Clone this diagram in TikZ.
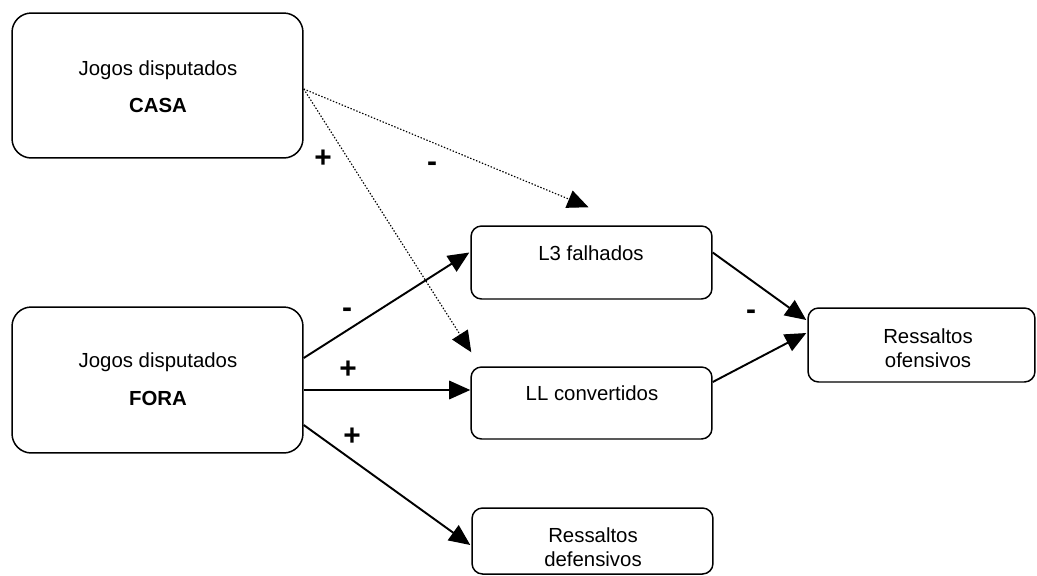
\documentclass[tikz,border=0pt]{standalone}
\usepackage{fontspec}
\setmainfont{Liberation Sans}
\usetikzlibrary{arrows.meta,calc}
\tikzset{
  bigbox/.style={draw, line width=0.85pt, rounded corners=11pt, inner sep=0pt},
  smallbox/.style={draw, line width=0.85pt, rounded corners=6pt, inner sep=0pt},
  lbl/.style={inner sep=0pt, align=center, font=\fontsize{11.6}{13.5}\selectfont},
  sign/.style={inner sep=0pt, font=\fontsize{17}{19}\selectfont\bfseries, text height=1.1ex, text depth=0pt},
  solidarr/.style={line width=1.1pt, -{Triangle[length=12pt,width=10.5pt]}},
  dotarr/.style={line width=0.65pt, dash pattern=on 0.8pt off 1pt, -{Triangle[length=12pt,width=10.5pt]}}
}
\begin{document}
\begin{tikzpicture}[x=0.02cm, y=-0.02cm]
\useasboundingbox (0,0) rectangle (1037,575);
% boxes
\node[bigbox, minimum width=5.82cm, minimum height=2.9cm] (casa) at (157.5,85.5) {};
\node[bigbox, minimum width=5.82cm, minimum height=2.92cm] (fora) at (157.5,380) {};
\node[smallbox, minimum width=4.82cm, minimum height=1.46cm] (l3) at (591.5,262.5) {};
\node[smallbox, minimum width=4.82cm, minimum height=1.44cm] (ll) at (591.5,403) {};
\node[smallbox, minimum width=4.82cm, minimum height=1.32cm] (def) at (592.5,541) {};
\node[smallbox, minimum width=4.54cm, minimum height=1.48cm] (ofe) at (921.5,345) {};
% texts
\node[lbl] (casat1) at (158,70) {Jogos disputados};
\node[lbl, font=\fontsize{11.6}{13.5}\selectfont\bfseries] (casat2) at (158,105) {CASA};
\node[lbl] (forat1) at (158,362) {Jogos disputados};
\node[lbl, font=\fontsize{11.6}{13.5}\selectfont\bfseries] (forat2) at (158,398) {FORA};
\node[lbl] (l3t) at (591,253) {L3 falhados};
\node[lbl] (llt) at (592,393) {LL convertidos};
\node[lbl] (deft) at (593,547) {Ressaltos\\defensivos};
\node[lbl] (ofet) at (928,348) {Ressaltos\\ofensivos};
% dotted arrows from CASA
\draw[dotarr] ($(casa.east)+(0,3.5)$) -- ($(l3.north)+(-3,-18)$);
\draw[dotarr] ($(casa.east)+(0,3.5)$) -- ($(ll.north west)+(1,-14)$);
% solid arrows from FORA
\draw[solidarr] ($(fora.east)+(0,-22)$) -- ($(l3.west)+(-1,-10)$);
\draw[solidarr] ($(fora.east)+(0,10)$) -- ($(ll.west)+(0,-13)$);
\draw[solidarr] ($(fora.east)+(0,45)$) -- ($(def.west)+(-1,4)$);
% to Ressaltos ofensivos
\draw[solidarr] ($(l3.east)+(0,-10)$) -- ($(ofe.west)+(-1,-25)$);
\draw[solidarr] ($(ll.east)+(0,-21)$) -- ($(ofe.west)+(-1,-12)$);
% signs
\node[sign] (s1) at (323,162) {+};
\node[sign] (s2) at (432,166) {-};
\node[sign] (s3) at (347,312) {-};
\node[sign] (s4) at (348,373) {+};
\node[sign] (s5) at (352,440) {+};
\node[sign] (s6) at (751,314) {-};
\end{tikzpicture}
\end{document}
